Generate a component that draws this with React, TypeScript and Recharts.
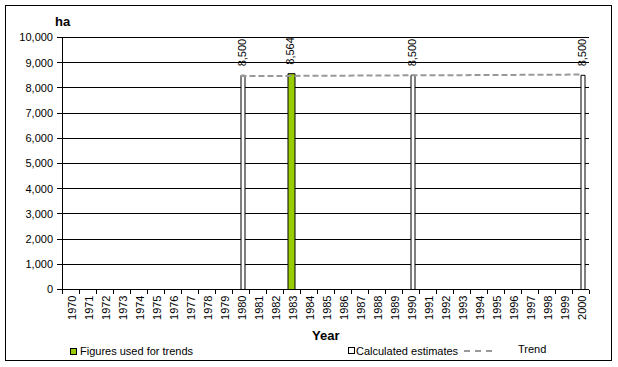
import { Bar, CartesianGrid, ComposedChart, LabelList, Line, XAxis, YAxis } from "recharts";

const years = [
  "1970", "1971", "1972", "1973", "1974", "1975", "1976", "1977", "1978", "1979",
  "1980", "1981", "1982", "1983", "1984", "1985", "1986", "1987", "1988", "1989",
  "1990", "1991", "1992", "1993", "1994", "1995", "1996", "1997", "1998", "1999",
  "2000",
];

const figureYears = ["1983"];
const figureValues = [8564];

const estimateYears = ["1980", "1990", "2000"];
const estimateValues = [8500, 8500, 8500];

const trendYears = [
  "1980", "1981", "1982", "1983", "1984", "1985", "1986", "1987", "1988", "1989",
  "1990", "1991", "1992", "1993", "1994", "1995", "1996", "1997", "1998", "1999",
  "2000",
];
const trendValues = [
  8470, 8470, 8475, 8475, 8480, 8480, 8485, 8490, 8490, 8495,
  8500, 8500, 8505, 8505, 8510, 8515, 8515, 8520, 8520, 8525,
  8530,
];

const yTicks = [0, 1000, 2000, 3000, 4000, 5000, 6000, 7000, 8000, 9000, 10000];

const pick = (keys: string[], vals: number[], year: string) => {
  const i = keys.indexOf(year);
  return i >= 0 ? vals[i] : null;
};

const data = years.map((year) => ({
  year,
  figures: pick(figureYears, figureValues, year),
  estimates: pick(estimateYears, estimateValues, year),
  trend: pick(trendYears, trendValues, year),
}));

const FONT = "'Liberation Sans', Arial, sans-serif";
const W = 618;
const H = 367;
const PLOT_LEFT = 62;
const PLOT_RIGHT = 589;
const HALF_BAND = (PLOT_RIGHT - PLOT_LEFT) / years.length / 2;

const fmt = (v: number) => v.toLocaleString("en-US");

function YearTick(props: any) {
  const { x, y, payload, index } = props;
  const tx = x + 1;
  const ty = y + 6;
  return (
    <g>
      <line x1={x - HALF_BAND} y1={y} x2={x - HALF_BAND} y2={y + 4} stroke="#000" />
      {index === years.length - 1 && (
        <line x1={x + HALF_BAND} y1={y} x2={x + HALF_BAND} y2={y + 4} stroke="#000" />
      )}
      <text
        x={tx}
        y={ty}
        transform={`rotate(-90 ${tx} ${ty})`}
        textAnchor="end"
        dominantBaseline="central"
        fontSize={11}
        fontFamily={FONT}
        fill="#000"
      >
        {payload.value}
      </text>
    </g>
  );
}

function ValueLabel(props: any) {
  const { x, y, width, value } = props;
  if (value == null) return null;
  const cx = Number(x) + Number(width) / 2 - 1;
  const cy = Number(y) - 9;
  return (
    <text
      x={cx}
      y={cy}
      transform={`rotate(-90 ${cx} ${cy})`}
      textAnchor="start"
      dominantBaseline="central"
      fontSize={11}
      fontFamily={FONT}
      fill="#000"
    >
      {fmt(Number(value))}
    </text>
  );
}

const textStyle = { position: "absolute" as const, fontFamily: FONT, fontSize: 11, color: "#000", lineHeight: "12px", whiteSpace: "nowrap" as const };

export default function App() {
  return (
    <div style={{ position: "absolute", left: 0, top: 0, width: W, height: H, background: "#fff" }}>
      <style>{`.recharts-surface line, .recharts-surface rect { shape-rendering: crispEdges; }`}</style>
      <div style={{ position: "absolute", left: 5, top: 5, width: 605, height: 354, border: "1px solid #000" }} />
      <ComposedChart
        width={W}
        height={H}
        data={data}
        margin={{ top: 37.5, right: W - PLOT_RIGHT, bottom: 0, left: 0 }}
        barGap={-3}
      >
        <CartesianGrid vertical={false} stroke="#000" />
        <XAxis
          dataKey="year"
          interval={0}
          height={H - 289.5}
          axisLine={{ stroke: "#000" }}
          tickLine={false}
          tickSize={0}
          tickMargin={0}
          tick={<YearTick />}
        />
        <YAxis
          width={PLOT_LEFT}
          domain={[0, 10000]}
          ticks={yTicks}
          interval={0}
          axisLine={{ stroke: "#000" }}
          tickLine={{ stroke: "#000" }}
          tickSize={5}
          tickMargin={4}
          tick={{ fill: "#000", fontSize: 11, fontFamily: FONT }}
          tickFormatter={(v) => fmt(Number(v))}
        />
        <Bar dataKey="figures" barSize={7} fill="#99cc00" stroke="#000" isAnimationActive={false}>
          <LabelList dataKey="figures" content={<ValueLabel />} />
        </Bar>
        <Bar dataKey="estimates" barSize={4} fill="#fff" stroke="#000" isAnimationActive={false}>
          <LabelList dataKey="estimates" content={<ValueLabel />} />
        </Bar>
        <Line
          dataKey="trend"
          type="linear"
          stroke="#999999"
          strokeWidth={2}
          strokeDasharray="6 3"
          dot={false}
          activeDot={false}
          connectNulls={false}
          isAnimationActive={false}
        />
      </ComposedChart>
      <div style={{ ...textStyle, left: 55, top: 14, fontSize: 13, fontWeight: "bold", lineHeight: "15px" }}>ha</div>
      <div style={{ ...textStyle, left: 312, top: 328, fontSize: 13, fontWeight: "bold", lineHeight: "15px" }}>Year</div>
      <div style={{ position: "absolute", left: 70, top: 348, width: 5, height: 5, background: "#99cc00", border: "1px solid #000" }} />
      <div style={{ ...textStyle, left: 80, top: 345 }}>Figures used for trends</div>
      <div style={{ position: "absolute", left: 348, top: 347, width: 5, height: 5, background: "#fff", border: "1px solid #000" }} />
      <div style={{ ...textStyle, left: 356, top: 345 }}>Calculated estimates</div>
      <div style={{ position: "absolute", left: 464, top: 350, width: 28, height: 0, borderTop: "2px dashed #999999" }} />
      <div style={{ ...textStyle, left: 518, top: 343 }}>Trend</div>
    </div>
  );
}
